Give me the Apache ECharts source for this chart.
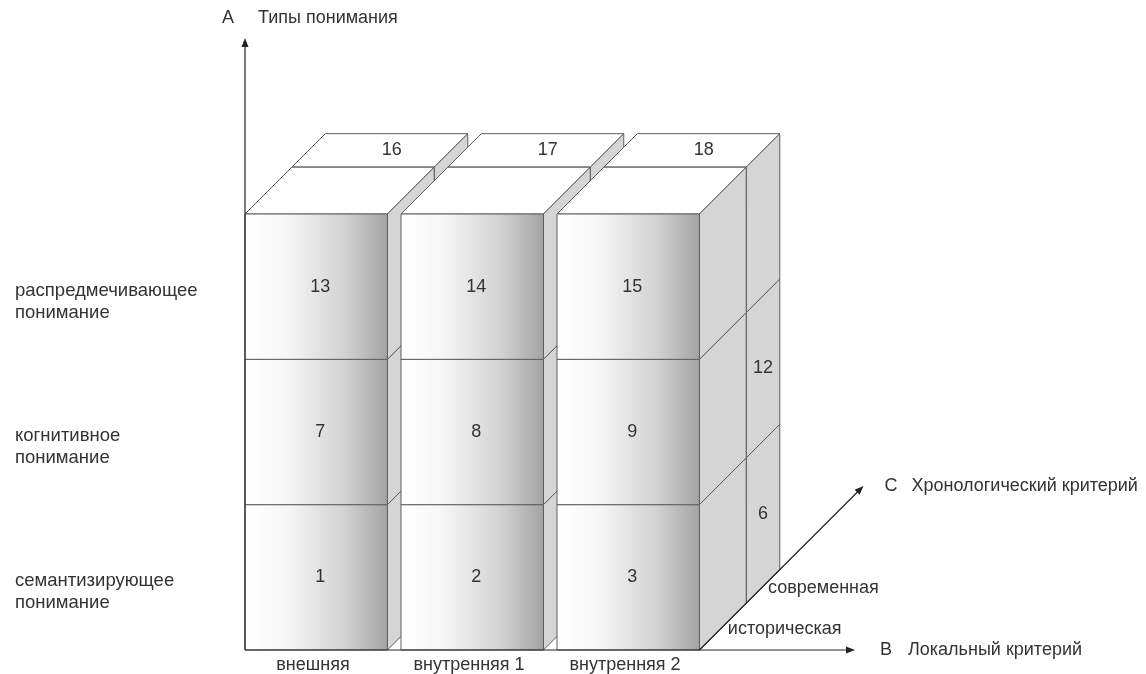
<!DOCTYPE html>
<html>
<head>
<meta charset="utf-8">
<script src="https://cdn.jsdelivr.net/npm/echarts@6/dist/echarts.min.js"></script>
<style>
  html, body { margin: 0; padding: 0; background: #ffffff; }
  #chart { width: 1146px; height: 674px; }
</style>
</head>
<body>
<div id="chart"></div>
<script>
// ---------- DATA ----------
const columns = ['внешняя', 'внутренняя 1', 'внутренняя 2'];              // B: локальный критерий
const rows = ['семантизирующее\nпонимание', 'когнитивное\nпонимание', 'распредмечивающее\nпонимание']; // A: типы понимания (bottom → top)
const layers = ['историческая', 'современная'];                           // C: хронологический критерий (front → back)
const axisLetters = ['A', 'B', 'C'];
const axisTitles = ['Типы понимания', 'Локальный критерий', 'Хронологический критерий'];
// cells: [column, row, layer, number]
const cells = [
  [0, 0, 0, 1], [1, 0, 0, 2], [2, 0, 0, 3],
  [0, 0, 1, 4], [1, 0, 1, 5], [2, 0, 1, 6],
  [0, 1, 0, 7], [1, 1, 0, 8], [2, 1, 0, 9],
  [0, 1, 1, 10], [1, 1, 1, 11], [2, 1, 1, 12],
  [0, 2, 0, 13], [1, 2, 0, 14], [2, 2, 0, 15],
  [0, 2, 1, 16], [1, 2, 1, 17], [2, 2, 1, 18]
];

// ---------- STYLE ----------
const FONT_FAMILY = '"Liberation Sans", Arial, sans-serif';
const FONT_SIZE = 18;
const TEXT_COLOR = '#333333';
const EDGE_COLOR = '#5f5f5f';
const BOX_FILL = 0.913;            // front-face width as a share of the band
const LAYER_DEPTH = [0.30, 0.215]; // oblique depth of each layer as a share of the band
const AXIS_EXT = { A: 612, B: 610, C: 232 }; // arrow lengths (px)

// painter's order: left→right, back→front, bottom→top
const drawOrder = cells.slice().sort((a, b) => (a[0] - b[0]) || (b[2] - a[2]) || (a[1] - b[1]));

function layerOffset(d, bw) {
  let o = 0;
  for (let i = 0; i < d; i++) o += LAYER_DEPTH[i] * bw;
  return o;
}

function renderCell(params, api) {
  const c = api.value(0), r = api.value(1), d = api.value(2), n = api.value(3);
  const center = api.coord([c, r]);
  const size = api.size([1, 1]);
  const bw = size[0], bh = size[1];
  const w = bw * BOX_FILL;
  const o = layerOffset(d, bw);
  const t = LAYER_DEPTH[d] * bw;
  const x0 = center[0] - bw / 2 + o;
  const y0 = center[1] - bh / 2 - o;
  const x1 = x0 + w, y1 = y0 + bh;
  const stroke = { stroke: EDGE_COLOR, lineWidth: 1 };
  const children = [
    { type: 'polygon', shape: { points: [[x0, y0], [x1, y0], [x1 + t, y0 - t], [x0 + t, y0 - t]] },
      style: Object.assign({ fill: '#ffffff' }, stroke) },
    { type: 'polygon', shape: { points: [[x1, y0], [x1 + t, y0 - t], [x1 + t, y1 - t], [x1, y1]] },
      style: Object.assign({ fill: '#d5d5d5' }, stroke) },
    { type: 'polygon', shape: { points: [[x0, y0], [x1, y0], [x1, y1], [x0, y1]] },
      style: Object.assign({ fill: { type: 'linear', x: 0, y: 0, x2: 1, y2: 0,
        colorStops: [
          { offset: 0, color: '#ffffff' }, { offset: 0.3, color: '#f6f6f6' },
          { offset: 0.7, color: '#d2d2d2' }, { offset: 1, color: '#a3a3a3' }] } }, stroke) }
  ];
  const lastLayer = layers.length - 1, topRow = rows.length - 1, lastCol = columns.length - 1;
  let lx = null, ly = null;
  if (d === 0) { lx = x0 + w / 2 + 4; ly = y0 + bh / 2; }
  else if (d === lastLayer && r === topRow) { lx = x0 + w / 2 + t / 2 + 12; ly = y0 - t / 2; }
  else if (d === lastLayer && c === lastCol) { lx = x1 + t / 2; ly = y0 + bh / 2 - t / 2; }
  if (lx !== null) {
    children.push({ type: 'text', style: { text: String(n), x: lx, y: ly, align: 'center', verticalAlign: 'middle',
      font: FONT_SIZE + 'px ' + FONT_FAMILY, fill: TEXT_COLOR } });
  }
  return { type: 'group', children: children };
}

function arrow(tip, ux, uy, color) {
  const L = 9, hw = 3.5;
  const bx = tip[0] - L * ux, by = tip[1] - L * uy;
  return { type: 'polygon', shape: { points: [tip, [bx - hw * uy, by + hw * ux], [bx + hw * uy, by - hw * ux]] },
    style: { fill: color } };
}

function txt(text, x, y, align) {
  return { type: 'text', style: { text: text, x: x, y: y, align: align || 'left', verticalAlign: 'middle',
    font: FONT_SIZE + 'px ' + FONT_FAMILY, fill: TEXT_COLOR } };
}

function renderAxes(params, api) {
  const c0 = api.coord([0, 0]);
  const size = api.size([1, 1]);
  const bw = size[0], bh = size[1];
  const origin = [c0[0] - bw / 2, c0[1] + bh / 2];
  const lastC = api.coord([columns.length - 1, 0]);
  const cStart = [lastC[0] - bw / 2 + bw * BOX_FILL, origin[1]];
  const col = '#222222';
  const ls = { stroke: col, lineWidth: 1.2 };
  const aTip = [origin[0], origin[1] - AXIS_EXT.A];
  const bTip = [origin[0] + AXIS_EXT.B, origin[1]];
  const k = AXIS_EXT.C / Math.SQRT2;
  const cTip = [cStart[0] + k, cStart[1] - k];
  const s = Math.SQRT1_2;
  const els = [
    { type: 'line', shape: { x1: origin[0], y1: origin[1], x2: aTip[0], y2: aTip[1] + 8 }, style: ls },
    arrow(aTip, 0, -1, col),
    { type: 'line', shape: { x1: origin[0], y1: origin[1], x2: bTip[0] - 8, y2: bTip[1] }, style: ls },
    arrow(bTip, 1, 0, col),
    { type: 'line', shape: { x1: cStart[0], y1: cStart[1], x2: cTip[0] - 6, y2: cTip[1] + 6 }, style: ls },
    arrow(cTip, s, -s, col),
    txt(axisLetters[0], aTip[0] - 17, aTip[1] - 20, 'center'),
    txt(axisTitles[0], aTip[0] + 13, aTip[1] - 20),
    txt(axisLetters[1], bTip[0] + 25, bTip[1]),
    txt(axisTitles[1], bTip[0] + 53, bTip[1]),
    txt(axisLetters[2], cTip[0] + 21, cTip[1]),
    txt(axisTitles[2], cTip[0] + 48, cTip[1])
  ];
  layers.forEach(function (name, d) {
    const m = layerOffset(d, bw) + LAYER_DEPTH[d] * bw / 2;
    els.push(txt(name, cStart[0] + m + 5, cStart[1] - m + 2));
  });
  return { type: 'group', children: els };
}

const chart = echarts.init(document.getElementById('chart'), null, { renderer: 'canvas' });
chart.setOption({
  backgroundColor: '#ffffff',
  animation: false,
  grid: { left: 245, top: 214, width: 468, height: 436, containLabel: false, outerBoundsMode: 'none' },
  xAxis: {
    type: 'category', data: columns,
    axisLine: { show: false }, axisTick: { show: false }, splitLine: { show: false },
    axisLabel: { margin: 6, color: TEXT_COLOR, fontSize: 18, lineHeight: 18, fontFamily: FONT_FAMILY, padding: [0, 20, 0, 0] }
  },
  yAxis: {
    type: 'category', data: rows,
    axisLine: { show: false }, axisTick: { show: false }, splitLine: { show: false },
    axisLabel: {
      align: 'left', margin: 230, color: TEXT_COLOR, fontSize: 18.5, fontFamily: FONT_FAMILY, lineHeight: 22,
      formatter: function (v) { return '{gap| }\n' + v; },
      rich: { gap: { fontSize: 10, lineHeight: 30, height: 30 } }
    }
  },
  series: [
    { type: 'custom', renderItem: renderCell, data: drawOrder, encode: { x: 0, y: 1 }, silent: true, clip: false },
    { type: 'custom', renderItem: renderAxes, data: [[0, 0]], encode: { x: 0, y: 1 }, silent: true, clip: false, z: 3 }
  ]
});
</script>
</body>
</html>
